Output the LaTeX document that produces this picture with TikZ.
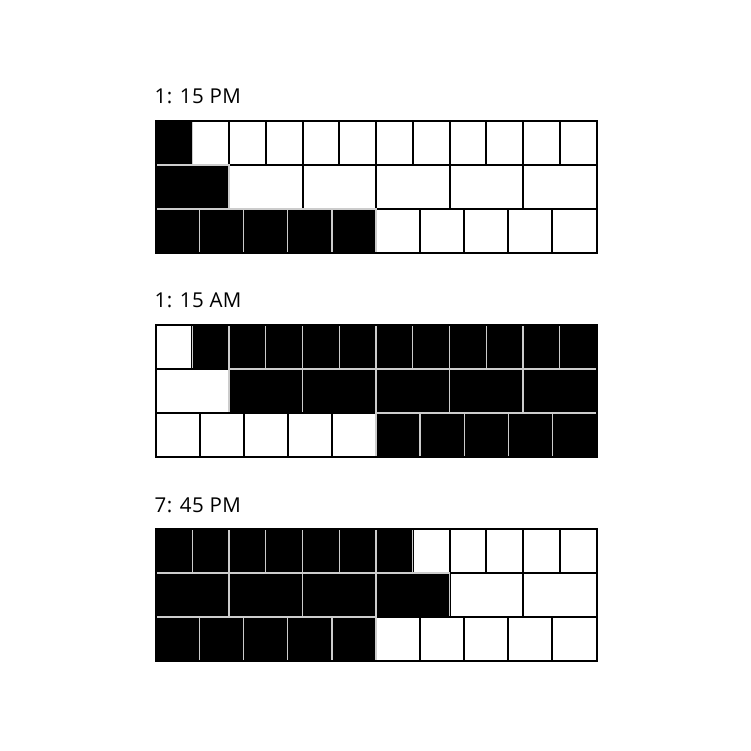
\documentclass[tikz,border=0pt]{standalone}
\usepackage{fontspec}
\setmainfont{Open Sans}
\newfontfamily\labelfont[LetterSpace=2]{Open Sans}
\tikzset{
  whitecell/.style={fill=white, draw=black, line width=2pt},
  blackcell/.style={fill=black, draw=black!20, line width=1.3pt},
  frame/.style={draw=black, line width=2pt},
  clocklabel/.style={anchor=base west, inner sep=0pt, font=\labelfont\fontsize{20.5}{22}\selectfont}
}
\newcommand\clkrow[3]{% #1 top y, #2 number of cells, #3 list of 0/1
  \pgfmathsetmacro\cw{441/#2}
  \foreach \v [count=\i from 0] in {#3} {
    \ifnum\v=0 \draw[whitecell] ({155.5+\i*\cw},#1) rectangle ++(\cw,44);\fi
  }
  \foreach \v [count=\i from 0] in {#3} {
    \ifnum\v=1 \draw[blackcell] ({155.5+\i*\cw},#1) rectangle ++(\cw,44);\fi
  }
}
\begin{document}
\begin{tikzpicture}[x=1pt,y=-1pt]
\useasboundingbox (0,0) rectangle (751,750);
% clock 1
\node[clocklabel] (t1) at (154.5,103.3) {1: 15 PM};
\clkrow{121}{12}{1,0,0,0,0,0,0,0,0,0,0,0}
\clkrow{165}{6}{1,0,0,0,0,0}
\clkrow{209}{10}{1,1,1,1,1,0,0,0,0,0}
\draw[frame] (155.5,121) rectangle (596.5,253);
% clock 2
\node[clocklabel] (t2) at (154.5,307.7) {1: 15 AM};
\clkrow{325}{12}{0,1,1,1,1,1,1,1,1,1,1,1}
\clkrow{369}{6}{0,1,1,1,1,1}
\clkrow{413}{10}{0,0,0,0,0,1,1,1,1,1}
\draw[frame] (155.5,325) rectangle (596.5,457);
% clock 3
\node[clocklabel] (t3) at (154.5,512.7) {7: 45 PM};
\clkrow{529}{12}{1,1,1,1,1,1,1,0,0,0,0,0}
\clkrow{573}{6}{1,1,1,1,0,0}
\clkrow{617}{10}{1,1,1,1,1,0,0,0,0,0}
\draw[frame] (155.5,529) rectangle (596.5,661);
\end{tikzpicture}
\end{document}
